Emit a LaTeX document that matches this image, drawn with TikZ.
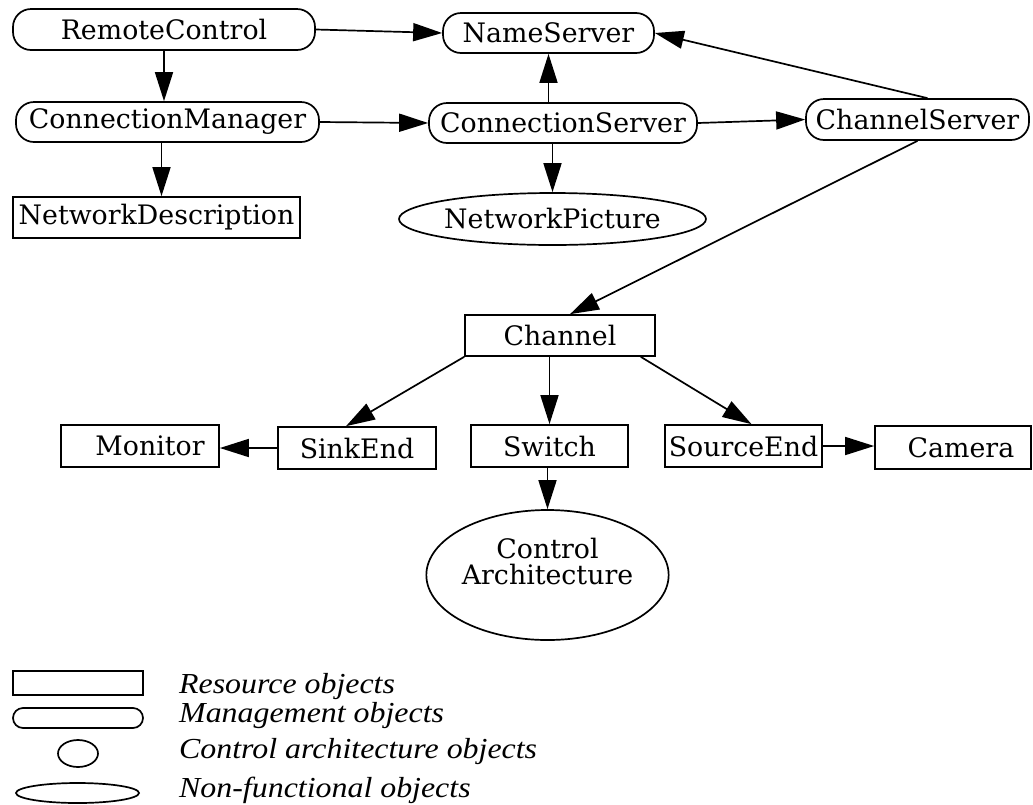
\documentclass[tikz,border=0pt]{standalone}
\usepackage{fontspec}
\setmainfont{DejaVu Serif}
\newfontfamily\legfont[FakeStretch=1.1]{Liberation Serif}
\usetikzlibrary{arrows.meta,shapes.geometric}

\begin{document}
\begin{tikzpicture}[x=1pt,y=-1pt,line width=1.7pt,
	font=\fontsize{26.8}{26}\selectfont,
	>={Triangle[length=29pt,width=18pt]},
	res/.style={draw,rectangle,inner sep=0pt},
	mgmt/.style={draw,rectangle,rounded corners=18pt,inner sep=0pt},
	nonf/.style={draw,ellipse,inner sep=0pt},
	legtext/.style={anchor=base west,font=\legfont\fontsize{29}{24}\selectfont\itshape}]
	\useasboundingbox (0,0) rectangle (1033,804);
	% managers and servers
	\node[mgmt,minimum width=302pt,minimum height=41pt] (RC) at (164,29.5) {RemoteControl};
	\node[mgmt,minimum width=211pt,minimum height=40pt] (NS) at (548.5,33) {NameServer};
	\node[mgmt,minimum width=303pt,minimum height=40pt] (CM) at (167.5,122) {ConnectionManager};
	\node[mgmt,minimum width=268pt,minimum height=40pt] (CS) at (563,123) {ConnectionServer};
	\node[mgmt,minimum width=223pt,minimum height=41pt] (ChS) at (917.5,119.5) {ChannelServer};
	\node[res,minimum width=287pt,minimum height=41pt] (ND) at (156.5,217.5) {NetworkDescription};
	\node[nonf,minimum width=307pt,minimum height=52pt] (NP) at (552.5,219) {NetworkPicture};
	% resources
	\node[res,minimum width=190pt,minimum height=41pt] (Ch) at (560,335.5) {Channel};
	\node[res,minimum width=158pt,minimum height=42pt] (Mon) at (140,446) {\hspace*{20pt}Monitor};
	\node[res,minimum width=158pt,minimum height=42pt] (Sink) at (357,448) {SinkEnd};
	\node[res,minimum width=157pt,minimum height=42pt] (Sw) at (549.5,446) {Switch};
	\node[res,minimum width=157pt,minimum height=42pt] (Src) at (743.5,446) {SourceEnd};
	\node[res,minimum width=156pt,minimum height=43pt] (Cam) at (953,447.5) {\hspace*{16pt}Camera};
	\node[nonf,minimum width=181pt,minimum height=130pt,align=center] (CA) at (547.5,575) {Control\\Architecture\\[2pt]\mbox{}};
	% connectors
	\draw [->] (RC.east) -- (NS.west);
	\draw [->] (RC.south) -- (RC.south |- CM.north);
	\draw [->] (CM.east) -- (CS.west);
	\draw [->] ([xshift=-6pt]CM.south) -- ([xshift=-6pt]CM.south |- ND.north);
	\draw [->] (NS.south |- CS.north) -- (NS.south);
	\draw [->] (NP.north |- CS.south) -- (NP.north);
	\draw [->] (CS.east) -- (ChS.west);
	\draw [->] ([xshift=10pt]ChS.north) -- (NS.east);
	\draw [->] (ChS.south) -- ([xshift=10pt]Ch.north);
	\draw [->] (Ch.south west) -- ([xshift=-11pt]Sink.north);
	\draw [->] (Ch.south -| Sw.north) -- (Sw.north);
	\draw [->] ([xshift=-15pt]Ch.south east) -- ([xshift=8pt]Src.north);
	\draw [->] (Sink.west) -- (Sink.west -| Mon.east);
	\draw [->] (Src.east) -- (Src.east -| Cam.west);
	\draw [->] (Sw.south -| CA.north) -- (CA.north);
	% legend
	\node[res,minimum width=130pt,minimum height=24pt] (Lres) at (78,683) {};
	\node[mgmt,rounded corners=10pt,minimum width=130pt,minimum height=20pt] (Lmgmt) at (78,718) {};
	\node[nonf,minimum width=40pt,minimum height=27pt] (Lctrl) at (78,753.5) {};
	\node[nonf,minimum width=123pt,minimum height=20pt] (Lnonf) at (77.5,793) {};
	\node[legtext] (Tres) at (175,693) {Resource objects};
	\node[legtext] (Tmgmt) at (175,722) {Management objects};
	\node[legtext] (Tctrl) at (175,758) {Control architecture objects};
	\node[legtext] (Tnonf) at (175,797) {Non-functional objects};
\end{tikzpicture}
\end{document}
